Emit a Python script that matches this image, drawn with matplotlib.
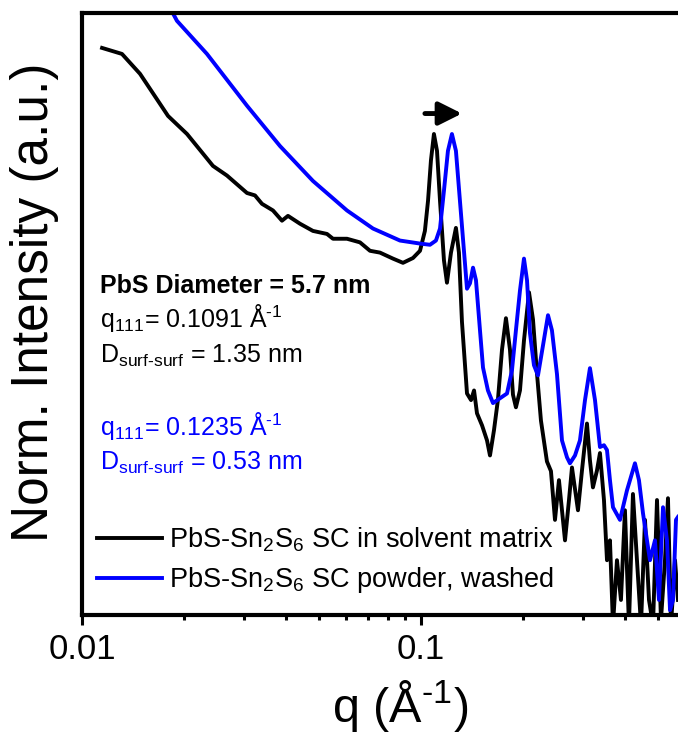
import matplotlib
matplotlib.use('Agg')
import matplotlib.pyplot as plt
from matplotlib.lines import Line2D

plt.rcParams['font.family'] = ['Liberation Sans', 'DejaVu Sans']
plt.rcParams['mathtext.fontset'] = 'custom'
plt.rcParams['mathtext.rm'] = 'Liberation Sans'
plt.rcParams['mathtext.it'] = 'Liberation Sans:italic'
plt.rcParams['mathtext.bf'] = 'Liberation Sans:bold'
plt.rcParams['mathtext.default'] = 'regular'

# PbS-Sn2S6 SC in solvent matrix (black)
q_sol = [0.01146, 0.01312, 0.01483, 0.01794, 0.02041, 0.02434, 0.02677, 0.03067, 0.03238,
         0.03396, 0.03659, 0.03890, 0.04052, 0.04395, 0.04801, 0.05281, 0.05501, 0.06049,
         0.06607, 0.07073, 0.07568, 0.08268, 0.08849, 0.09471, 0.09934, 0.1027, 0.1049,
         0.1070, 0.1092, 0.1115, 0.1138, 0.1169, 0.1193, 0.1226, 0.1268, 0.1294, 0.1321,
         0.1367, 0.1405, 0.1434, 0.1463, 0.1514, 0.1566, 0.1598, 0.1642, 0.1687, 0.1734,
         0.1781, 0.1830, 0.1868, 0.1906, 0.1959, 0.2013, 0.2083, 0.2140, 0.2199, 0.2259,
         0.2353, 0.2418, 0.2485, 0.2553, 0.2660, 0.2733, 0.2789, 0.2905, 0.2985, 0.3088,
         0.3151, 0.3216, 0.3305, 0.3373, 0.3466, 0.3538, 0.3610, 0.3685, 0.3786, 0.3890,
         0.3997, 0.4107, 0.4220, 0.4337, 0.4457, 0.4580, 0.4706, 0.4836, 0.4969, 0.5105,
         0.5246, 0.5354, 0.5465, 0.5616, 0.5731]
I_sol = [94.2, 93.2, 89.9, 82.9, 79.9, 74.6, 73.0, 70.1, 69.7,
         68.3, 67.2, 65.5, 66.3, 65.0, 63.8, 63.3, 62.5, 62.5,
         61.9, 60.5, 60.2, 59.2, 58.5, 59.3, 60.5, 63.8, 68.8,
         75.5, 79.9, 77.1, 68.8, 58.9, 55.2, 60.2, 64.3, 60.2, 48.7,
         36.8, 35.7, 37.3, 33.5, 31.5, 29.0, 26.5, 30.7, 35.8, 44.1,
         49.3, 44.1, 36.6, 34.5, 37.3, 45.6, 53.6, 49.1, 40.1, 32.3,
         25.5, 23.9, 15.8, 22.4, 12.4, 19.1, 24.5, 17.4, 24.0, 31.8,
         25.7, 21.2, 24.0, 26.9, 19.1, 9.1, 12.4, -1.7, 9.1, 2.5,
         17.4, -1.7, 20.1, 9.1, -1.7, 15.8, 2.5, -1.7, 19.1, -0.8,
         9.1, 19.4, -1.7, 9.1, 2.5]

# PbS-Sn2S6 SC powder, washed (blue)
q_pow = [0.01698, 0.01906, 0.02337, 0.03067, 0.03838, 0.04801, 0.06049, 0.07217, 0.08671,
         0.09934, 0.1063, 0.1107, 0.1138, 0.1169, 0.1201, 0.1234, 0.1268, 0.1303, 0.1339,
         0.1367, 0.1395, 0.1424, 0.1453, 0.1493, 0.1524, 0.1576, 0.1631, 0.1710, 0.1794,
         0.1855, 0.1906, 0.1959, 0.2013, 0.2055, 0.2097, 0.2154, 0.2214, 0.2291, 0.2370,
         0.2434, 0.2519, 0.2606, 0.2696, 0.2751, 0.2847, 0.2944, 0.3047, 0.3151, 0.3261,
         0.3373, 0.3466, 0.3538, 0.3610, 0.3685, 0.3864, 0.4052, 0.4278, 0.4396, 0.4518,
         0.4642, 0.4738, 0.4901, 0.5036, 0.5176, 0.5318, 0.5429, 0.5541, 0.5653, 0.5731]
I_pow = [104.0, 98.7, 93.2, 84.6, 77.9, 72.1, 67.2, 64.2, 62.2,
         61.7, 61.5, 62.2, 64.2, 70.5, 77.1, 79.9, 77.1, 68.8, 60.5,
         54.2, 55.1, 57.7, 55.6, 47.3, 41.1, 37.3, 35.2, 36.0, 36.8,
         40.6, 47.3, 53.9, 59.2, 55.6, 46.8, 41.5, 39.8, 44.8, 49.8,
         47.3, 40.0, 29.0, 26.2, 25.2, 26.5, 29.0, 35.7, 41.0, 35.7,
         27.9, 28.2, 27.4, 22.4, 17.9, 15.8, 20.7, 25.2, 22.4, 16.9,
         12.4, 9.1, 12.4, 2.5, 17.9, 12.4, 0.8, 2.5, 15.8, 16.3]

labels = [r'PbS-Sn$_2$S$_6$ SC in solvent matrix', r'PbS-Sn$_2$S$_6$ SC powder, washed']
colors = ['black', '#0000ff']

# shift arrow (q from -> to, height)
arrow_q = (0.1027, 0.1321)
arrow_I = 83.3

fig = plt.figure(figsize=(6.78, 7.42), dpi=100)
ax = fig.add_axes([82 / 678, 127 / 742, 596 / 678, 602 / 742])

ax.plot(q_sol, I_sol, color=colors[0], lw=2.8)
ax.plot(q_pow, I_pow, color=colors[1], lw=2.8)

ax.set_xscale('log')
ax.set_xlim(0.01, 0.5731)
ax.set_ylim(0, 100)

for s in ['top', 'left', 'bottom']:
    ax.spines[s].set_linewidth(3)
ax.spines['right'].set_visible(False)

ax.set_yticks([])
ax.set_xticks([0.01, 0.1], labels=['0.01', '0.1'])
ax.tick_params(axis='x', which='major', direction='out', length=7, width=2.2,
               labelsize=25, pad=6)
ax.tick_params(axis='x', which='minor', direction='out', length=3.5, width=2.2,
               labelbottom=False)

ax.set_ylabel('Norm. Intensity (a.u.)', fontsize=37)
ax.yaxis.set_label_coords(-0.038, 0.52)
ax.set_xlabel(r'q (Å$^{\text{-}1}$)', fontsize=35)
ax.xaxis.set_label_coords(0.534, -0.105)

ax.annotate('', xy=(arrow_q[1], arrow_I), xytext=(arrow_q[0], arrow_I),
            arrowprops=dict(arrowstyle='-|>,head_length=0.7,head_width=0.35',
                            lw=3.5, color='black', shrinkA=0, shrinkB=0,
                            mutation_scale=20))

tx = 0.030
ax.text(tx, 0.535, 'PbS Diameter = 5.7 nm', transform=ax.transAxes,
        fontsize=18, fontweight='bold', va='baseline')
ax.text(tx, 0.478, r'q$_{111}$= 0.1091 Å$^{\text{-}1}$', transform=ax.transAxes,
        fontsize=18, va='baseline', color=colors[0])
ax.text(tx, 0.419, r'D$_{surf\text{-}surf}$ = 1.35 nm', transform=ax.transAxes,
        fontsize=18, va='baseline', color=colors[0])
ax.text(tx, 0.299, r'q$_{111}$= 0.1235 Å$^{\text{-}1}$', transform=ax.transAxes,
        fontsize=18, va='baseline', color=colors[1])
ax.text(tx, 0.241, r'D$_{surf\text{-}surf}$ = 0.53 nm', transform=ax.transAxes,
        fontsize=18, va='baseline', color=colors[1])

handles = [Line2D([], [], color=c, lw=2.8) for c in colors]
ax.legend(handles, labels, loc='lower left', bbox_to_anchor=(0.025, 0.033),
          frameon=False, fontsize=19.5, handlelength=2.4, handletextpad=0.25,
          labelspacing=0.4, borderpad=0, borderaxespad=0)

fig.savefig('out.png', dpi=100)
